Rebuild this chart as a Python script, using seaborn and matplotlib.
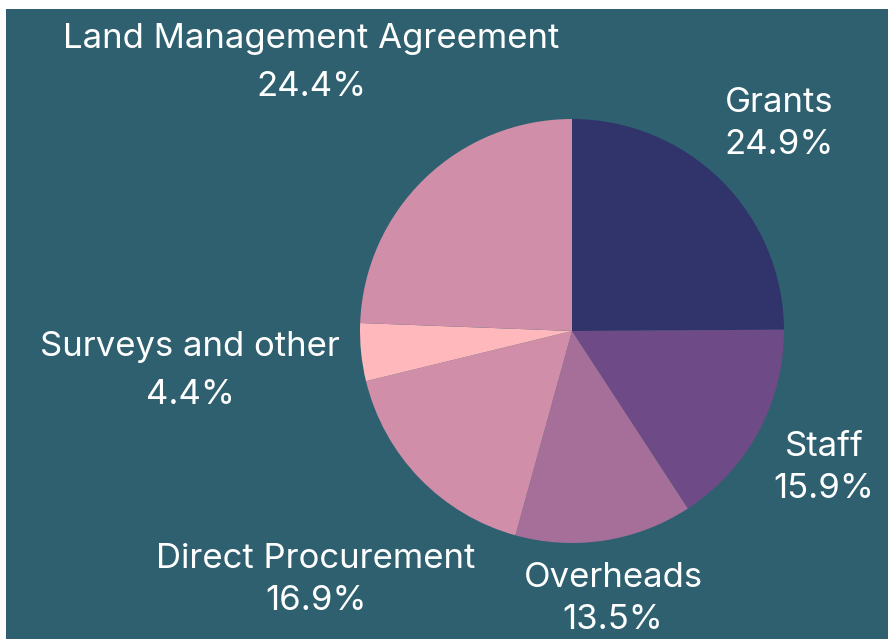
import matplotlib
matplotlib.use("Agg")
import matplotlib.pyplot as plt
import seaborn as sns
import numpy as np
from matplotlib.patches import Rectangle

sns.set_theme(style="white")
plt.rcParams['font.family'] = ['Inter', 'DejaVu Sans']

categories = ["Grants", "Staff", "Overheads", "Direct Procurement", "Surveys and other", "Land Management Agreement"]
values = [24.9, 15.9, 13.5, 16.9, 4.4, 24.4]
colors = ["#30346b", "#6e4b86", "#a56f9a", "#d18ea8", "#ffb8bb", "#d18ea8"]

W, H = 888, 639
fig = plt.figure(figsize=(W / 100, H / 100), dpi=100, facecolor="white")
ax = fig.add_axes([0, 0, 1, 1])
ax.set_facecolor("none")
ax.add_patch(Rectangle((6 / W, 0), 1 - 6 / W, (H - 9) / H, transform=fig.transFigure,
                       facecolor="#2e6070", edgecolor="none", zorder=-10, clip_on=False))

cx, cy, R = 572, 331, 212
ax.pie(values, colors=colors, startangle=90, counterclock=False, radius=1,
       wedgeprops=dict(linewidth=0))
ax.set_xlim(-cx / R, (W - cx) / R)
ax.set_ylim((cy - H) / R, cy / R)
ax.set_aspect("equal")
ax.axis("off")

# label anchor positions (pixel centres in layout)
label_px = [(779, 124), (824, 468), (613, 599), (316, 580), (190, 371), (311, 63)]
spacing = [1.4, 1.4, 1.4, 1.4, 1.62, 1.62]
for cat, v, (px, py), ls in zip(categories, values, label_px, spacing):
    ax.text((px - cx) / R, (cy - py) / R, f"{cat}\n{v:.1f}%", color="white",
            ha="center", va="center", fontsize=25, linespacing=ls)

fig.savefig("out.png", dpi=100, facecolor="white")
